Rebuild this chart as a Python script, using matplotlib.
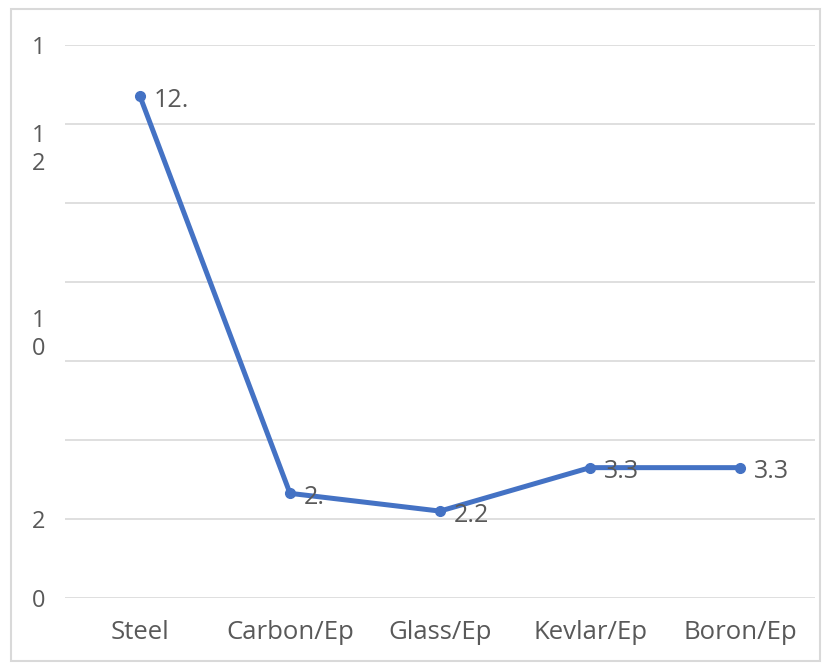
import matplotlib.pyplot as plt
from matplotlib.patches import Rectangle

materials = ['Steel', 'Carbon/Ep', 'Glass/Ep', 'Kevlar/Ep', 'Boron/Ep']
values = [12.7, 2.65, 2.2, 3.3, 3.3]
value_labels = ['12.', '2.', '2.2', '3.3', '3.3']

grid_ticks = [0, 2, 4, 6, 8, 10, 12, 14]
tick_text = ['0', '2', '', '1\n0', '', '', '1\n2', '1']

plt.rcParams['font.family'] = ['Open Sans', 'DejaVu Sans']

fig = plt.figure(figsize=(8.27, 6.66), dpi=100)
fig.patches.append(Rectangle((0.013, 0.008), 0.978, 0.978, transform=fig.transFigure,
                             fill=False, edgecolor='#d9d9d9', linewidth=1.5))
ax = fig.add_axes([65 / 827, 68 / 666, 750 / 827, 553 / 666])

x = range(len(materials))
ax.plot(x, values, color='#4472c4', linewidth=3.6, marker='o', markersize=7,
        solid_capstyle='round')
for xi, v, lab in zip(x, values, value_labels):
    ax.annotate(lab, (xi, v), xytext=(10, -3), textcoords='offset points',
                ha='left', va='center', fontsize=18, color='#595959')

ax.set_xlim(-0.5, 4.5)
ax.set_ylim(0, 14)
ax.set_xticks(list(x))
ax.set_xticklabels(materials, fontsize=18.5, color='#595959')
ax.set_yticks(grid_ticks)
ax.set_yticklabels(tick_text, fontsize=17, color='#595959', linespacing=1.2)
for t, lab in zip(ax.get_yticklabels(), tick_text):
    if lab == '1\n2':
        t.set_va('top')
    elif lab == '1\n0':
        t.set_va('bottom')
ax.tick_params(axis='both', length=0)
ax.tick_params(axis='y', pad=14)
ax.tick_params(axis='x', pad=16)
ax.grid(axis='y', color='#d9d9d9', linewidth=1.2)
ax.set_axisbelow(True)
for s in ax.spines.values():
    s.set_visible(False)

fig.savefig('out.png', dpi=100)
